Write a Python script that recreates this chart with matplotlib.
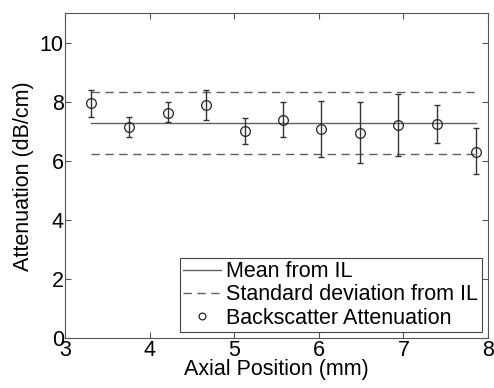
import matplotlib
matplotlib.use("Agg")
import matplotlib.pyplot as plt

plt.rcParams['font.family'] = ['Liberation Sans', 'DejaVu Sans']

# axial position (mm) and backscatter attenuation (dB/cm)
pos = [3.30, 3.75, 4.21, 4.66, 5.12, 5.58, 6.03, 6.49, 6.94, 7.40, 7.86]
atten = [7.96, 7.14, 7.64, 7.89, 7.02, 7.39, 7.08, 6.95, 7.21, 7.26, 6.32]
err_low = [0.46, 0.34, 0.33, 0.50, 0.46, 0.57, 0.95, 1.02, 1.03, 0.65, 0.76]
err_high = [0.44, 0.36, 0.36, 0.51, 0.45, 0.59, 0.96, 1.04, 1.05, 0.65, 0.80]

il_mean = 7.30
il_std = 1.05

fig = plt.figure(figsize=(4.94, 3.88), dpi=100)
ax = fig.add_axes([0.132, 0.128, 0.856, 0.838])

ends = [pos[0], pos[-1]]
ax.plot(ends, [il_mean, il_mean], '-', color='#606060', lw=1, label='Mean from IL')
ax.plot(ends, [il_mean + il_std] * 2, '--', color='#606060', lw=1, dashes=(6, 4),
        label='Standard deviation from IL')
ax.plot(ends, [il_mean - il_std] * 2, '--', color='#606060', lw=1, dashes=(6, 4))
ax.errorbar(pos, atten, yerr=[err_low, err_high], fmt='none', ecolor='#333333',
            elinewidth=1, capsize=2.5)
ax.plot(pos, atten, 'o', mfc='none', mec='#222222', ms=7, mew=0.9,
        label='Backscatter Attenuation')

ax.set_xlim(3, 8)
ax.set_ylim(0, 11)
ax.set_xticks([3, 4, 5, 6, 7, 8])
ax.set_yticks([0, 2, 4, 6, 8, 10])
ax.tick_params(direction='in', top=True, right=True, labelsize=15.5, length=4,
               color='#555555', pad=1)
for s in ax.spines.values():
    s.set_color('#555555')
ax.set_xlabel('Axial Position (mm)', fontsize=15.5, labelpad=-1)
ax.set_ylabel('Attenuation (dB/cm)', fontsize=15.5, labelpad=4)

leg = ax.legend(loc='lower right', fontsize=15.5, fancybox=False, framealpha=1,
                edgecolor='#444444', handlelength=1.75, handletextpad=0.25,
                borderpad=0.15, labelspacing=0.1, borderaxespad=0.3, markerscale=0.7)
leg.get_frame().set_linewidth(0.8)

fig.savefig('out.png', dpi=100)
